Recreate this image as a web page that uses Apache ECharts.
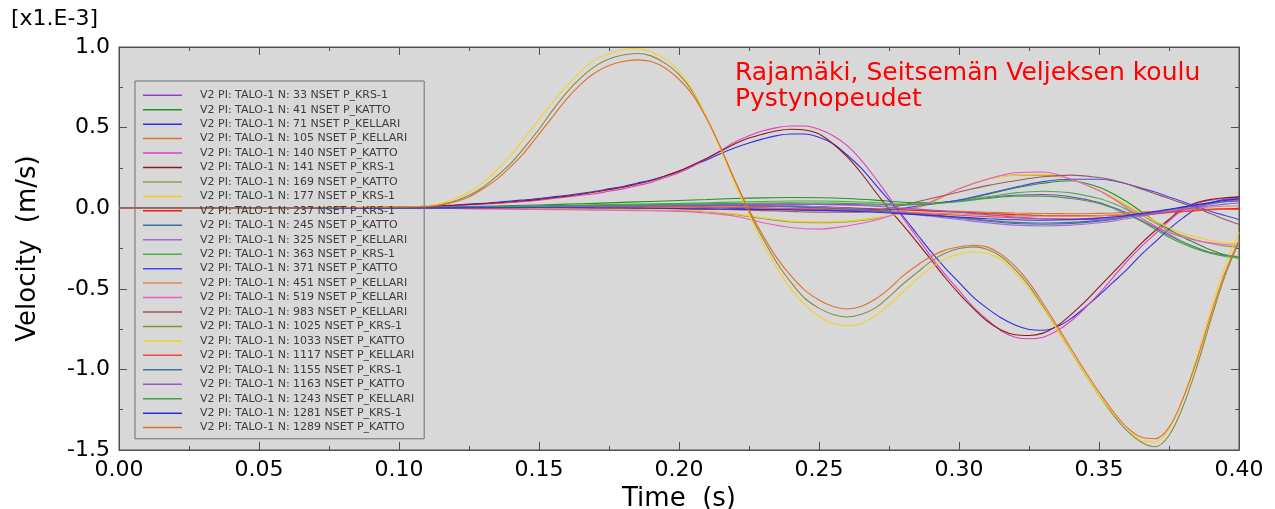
<!DOCTYPE html>
<html>
<head>
<meta charset="utf-8">
<script src="https://cdn.jsdelivr.net/npm/echarts@6/dist/echarts.min.js"></script>
<style>
html,body{margin:0;padding:0;background:#fff;}
#chart{width:1275px;height:509px;}
</style>
</head>
<body>
<div id="chart"></div>
<script>
// ---- data (velocity in 1e-3 m/s) ----
// coarse time grid (small-amplitude nodes)
const times = [0, 0.02, 0.04, 0.06, 0.08, 0.10, 0.11, 0.12, 0.13, 0.14, 0.15, 0.16, 0.17, 0.18, 0.19, 0.20, 0.21, 0.22, 0.23, 0.24, 0.25, 0.26, 0.27, 0.28, 0.29, 0.30, 0.31, 0.32, 0.33, 0.34, 0.35, 0.355, 0.36, 0.365, 0.37, 0.375, 0.38, 0.385, 0.39, 0.395, 0.40];
// fine time grid (large-amplitude nodes)
const timesFine = [0, 0.02, 0.04, 0.06, 0.08,
  0.100, 0.105, 0.110, 0.115, 0.120, 0.125, 0.130, 0.135, 0.140, 0.145,
  0.150, 0.155, 0.160, 0.165, 0.170, 0.175, 0.180, 0.185, 0.190, 0.195,
  0.200, 0.205, 0.210, 0.215, 0.220, 0.225, 0.230, 0.235, 0.240, 0.245,
  0.250, 0.255, 0.260, 0.265, 0.270, 0.275, 0.280, 0.285, 0.290, 0.295,
  0.300, 0.305, 0.310, 0.315, 0.320, 0.325, 0.330, 0.335, 0.340, 0.345,
  0.350, 0.355, 0.360, 0.365, 0.370, 0.375, 0.380, 0.385, 0.390, 0.395, 0.400];

const seriesNames = [
  "V2 PI: TALO-1 N: 33 NSET P_KRS-1",
  "V2 PI: TALO-1 N: 41 NSET P_KATTO",
  "V2 PI: TALO-1 N: 71 NSET P_KELLARI",
  "V2 PI: TALO-1 N: 105 NSET P_KELLARI",
  "V2 PI: TALO-1 N: 140 NSET P_KATTO",
  "V2 PI: TALO-1 N: 141 NSET P_KRS-1",
  "V2 PI: TALO-1 N: 169 NSET P_KATTO",
  "V2 PI: TALO-1 N: 177 NSET P_KRS-1",
  "V2 PI: TALO-1 N: 237 NSET P_KRS-1",
  "V2 PI: TALO-1 N: 245 NSET P_KATTO",
  "V2 PI: TALO-1 N: 325 NSET P_KELLARI",
  "V2 PI: TALO-1 N: 363 NSET P_KRS-1",
  "V2 PI: TALO-1 N: 371 NSET P_KATTO",
  "V2 PI: TALO-1 N: 451 NSET P_KELLARI",
  "V2 PI: TALO-1 N: 519 NSET P_KELLARI",
  "V2 PI: TALO-1 N: 983 NSET P_KELLARI",
  "V2 PI: TALO-1 N: 1025 NSET P_KRS-1",
  "V2 PI: TALO-1 N: 1033 NSET P_KATTO",
  "V2 PI: TALO-1 N: 1117 NSET P_KELLARI",
  "V2 PI: TALO-1 N: 1155 NSET P_KRS-1",
  "V2 PI: TALO-1 N: 1163 NSET P_KATTO",
  "V2 PI: TALO-1 N: 1243 NSET P_KELLARI",
  "V2 PI: TALO-1 N: 1281 NSET P_KRS-1",
  "V2 PI: TALO-1 N: 1289 NSET P_KATTO"
];

// small-amplitude nodes (on "times")
const n33   = [0,0,0,0,0,0.001,0.002,0.004,0.006,0.008,0.01,0.012,0.014,0.016,0.018,0.02,0.022,0.024,0.025,0.025,0.024,0.022,0.02,0.02,0.03,0.045,0.065,0.08,0.085,0.07,0.035,0.005,-0.03,-0.075,-0.12,-0.17,-0.21,-0.245,-0.275,-0.29,-0.30];
const n41   = [0,0,0,0,0,0.002,0.005,0.008,0.012,0.016,0.02,0.025,0.03,0.036,0.042,0.048,0.054,0.06,0.064,0.066,0.065,0.06,0.05,0.037,0.033,0.05,0.085,0.125,0.155,0.17,0.13,0.09,0.04,-0.02,-0.08,-0.13,-0.18,-0.22,-0.26,-0.29,-0.31];
const n105  = [0,0,0,0,0,0,-0.001,-0.002,-0.003,-0.004,-0.005,-0.006,-0.007,-0.008,-0.008,-0.008,-0.008,-0.007,-0.006,-0.005,-0.005,-0.006,-0.008,-0.011,-0.015,-0.02,-0.025,-0.03,-0.033,-0.034,-0.032,-0.03,-0.027,-0.024,-0.02,-0.016,-0.012,-0.008,-0.005,-0.003,-0.002];
const n169  = [0,0,0,0,0,0,0,0,0,0,-0.002,-0.004,-0.005,-0.006,-0.008,-0.012,-0.022,-0.04,-0.065,-0.085,-0.09,-0.085,-0.065,-0.025,0.035,0.12,0.18,0.205,0.205,0.18,0.11,0.06,0.01,-0.04,-0.09,-0.14,-0.17,-0.20,-0.22,-0.235,-0.24];
const n177  = [0,0,0,0,0,0,0,0,0,0,-0.002,-0.004,-0.005,-0.006,-0.007,-0.01,-0.02,-0.035,-0.06,-0.08,-0.085,-0.08,-0.06,-0.03,0.03,0.12,0.18,0.205,0.21,0.18,0.11,0.07,0.02,-0.03,-0.08,-0.12,-0.155,-0.18,-0.20,-0.215,-0.22];
const n237  = [0,0,0,0,0,0,0.001,0.002,0.003,0.004,0.005,0.006,0.008,0.01,0.012,0.014,0.015,0.015,0.014,0.012,0.008,0.003,-0.003,-0.01,-0.018,-0.025,-0.033,-0.04,-0.045,-0.047,-0.046,-0.044,-0.04,-0.035,-0.03,-0.025,-0.02,-0.014,-0.008,-0.003,0.0];
const n245  = [0,0,0,0,0,0.001,0.003,0.005,0.007,0.009,0.011,0.013,0.015,0.017,0.018,0.019,0.02,0.02,0.018,0.014,0.008,0.0,-0.01,-0.025,-0.04,-0.06,-0.08,-0.095,-0.10,-0.095,-0.08,-0.07,-0.055,-0.04,-0.025,-0.01,0.005,0.02,0.035,0.05,0.06];
const n325  = [0,0,0,0,0,0.001,0.002,0.004,0.006,0.008,0.01,0.012,0.014,0.016,0.018,0.02,0.021,0.022,0.02,0.015,0.008,-0.002,-0.015,-0.03,-0.05,-0.07,-0.09,-0.105,-0.11,-0.105,-0.09,-0.08,-0.065,-0.05,-0.035,-0.02,-0.005,0.01,0.025,0.04,0.05];
const n363  = [0,0,0,0,0,0.002,0.004,0.006,0.009,0.012,0.015,0.018,0.021,0.024,0.027,0.03,0.034,0.038,0.042,0.045,0.045,0.042,0.035,0.025,0.03,0.045,0.07,0.095,0.105,0.095,0.06,0.03,-0.01,-0.06,-0.11,-0.16,-0.21,-0.25,-0.28,-0.30,-0.31];
const n371  = [0,0,0,0,0,0.002,0.004,0.006,0.008,0.01,0.012,0.013,0.014,0.014,0.013,0.01,0.005,0.0,-0.005,-0.01,-0.015,-0.015,-0.01,0.0,0.025,0.05,0.09,0.13,0.165,0.18,0.18,0.17,0.15,0.125,0.10,0.07,0.04,0.01,-0.02,-0.045,-0.07];
const n451  = [0,0,0,0,0,0,0.001,0.002,0.003,0.004,0.005,0.006,0.007,0.008,0.008,0.008,0.007,0.005,0.002,-0.002,-0.007,-0.012,-0.018,-0.024,-0.03,-0.036,-0.042,-0.047,-0.05,-0.05,-0.046,-0.042,-0.037,-0.03,-0.023,-0.015,-0.007,0.0,0.007,0.012,0.015];
const n519  = [0,0,0,0,0,0,0,-0.002,-0.004,-0.006,-0.008,-0.01,-0.012,-0.014,-0.016,-0.02,-0.03,-0.05,-0.09,-0.12,-0.13,-0.11,-0.075,-0.02,0.04,0.12,0.18,0.22,0.225,0.18,0.11,0.06,0.0,-0.06,-0.11,-0.15,-0.18,-0.20,-0.215,-0.225,-0.23];
const n983  = [0,0,0,0,0,0,0,0.002,0.003,0.004,0.004,0.004,0.003,0.002,0,-0.003,-0.006,-0.01,-0.015,-0.02,-0.025,-0.025,-0.015,0.02,0.06,0.10,0.14,0.17,0.195,0.205,0.19,0.175,0.15,0.12,0.09,0.06,0.03,0.0,-0.035,-0.07,-0.10];
const n1117 = [0,0,0,0,0,0,0.001,0.001,0.002,0.003,0.004,0.005,0.006,0.007,0.008,0.008,0.007,0.005,0.002,-0.002,-0.007,-0.013,-0.02,-0.028,-0.036,-0.044,-0.052,-0.06,-0.065,-0.066,-0.06,-0.055,-0.05,-0.043,-0.036,-0.028,-0.022,-0.016,-0.01,-0.006,-0.008];
const n1155 = [0,0,0,0,0,0.001,0.002,0.003,0.005,0.007,0.009,0.011,0.013,0.014,0.015,0.016,0.016,0.015,0.012,0.008,0.002,-0.006,-0.016,-0.03,-0.045,-0.06,-0.075,-0.088,-0.092,-0.088,-0.075,-0.065,-0.052,-0.038,-0.024,-0.01,0.004,0.018,0.03,0.04,0.045];
const n1163 = [0,0,0,0,0,0.001,0.002,0.003,0.004,0.006,0.008,0.01,0.012,0.014,0.016,0.018,0.02,0.022,0.024,0.025,0.024,0.02,0.012,0.0,-0.012,-0.025,-0.04,-0.055,-0.065,-0.07,-0.068,-0.062,-0.055,-0.045,-0.032,-0.02,-0.008,0.005,0.015,0.025,0.032];
const n1243 = [0,0,0,0,0,0.001,0.003,0.005,0.007,0.01,0.012,0.015,0.018,0.02,0.022,0.025,0.028,0.03,0.032,0.033,0.032,0.03,0.025,0.022,0.028,0.04,0.06,0.075,0.075,0.06,0.03,0.0,-0.04,-0.08,-0.13,-0.18,-0.22,-0.255,-0.28,-0.295,-0.30];
const n1281 = [0,0,0,0,0,0.001,0.002,0.002,0.003,0.003,0.003,0.003,0.002,0.001,0.0,-0.002,-0.004,-0.006,-0.008,-0.01,-0.013,-0.018,-0.025,-0.035,-0.045,-0.055,-0.065,-0.072,-0.075,-0.072,-0.062,-0.055,-0.045,-0.033,-0.02,-0.007,0.008,0.022,0.035,0.048,0.058];

// large-amplitude nodes (on "timesFine")
const n71   = [0,0,0,0,0.002, 0.006,0.009,0.012,0.016,0.02,0.025,0.03,0.037,0.045,0.052, 0.06,0.07,0.08,0.092,0.105,0.12,0.135,0.155,0.175,0.20, 0.23,0.265,0.30,0.34,0.375,0.405,0.43,0.45,0.46,0.46, 0.44,0.40,0.33,0.25,0.15,0.05,-0.05,-0.16,-0.27,-0.37, -0.46,-0.55,-0.62,-0.68,-0.725,-0.752,-0.757,-0.735,-0.685,-0.615, -0.54,-0.46,-0.38,-0.29,-0.21,-0.13,-0.06,0.0,0.035,0.055,0.07];
const n140  = [0,0,0,0,0.002, 0.005,0.008,0.01,0.012,0.015,0.02,0.025,0.03,0.035,0.042, 0.05,0.06,0.07,0.08,0.09,0.105,0.12,0.14,0.16,0.19, 0.22,0.26,0.31,0.36,0.41,0.45,0.48,0.50,0.51,0.51, 0.49,0.45,0.39,0.30,0.19,0.07,-0.06,-0.18,-0.30,-0.41, -0.51,-0.61,-0.69,-0.76,-0.80,-0.81,-0.80,-0.76,-0.70,-0.62, -0.53,-0.43,-0.33,-0.24,-0.16,-0.08,-0.01,0.03,0.05,0.06,0.065];
const n141  = [0,0,0,0,0.002, 0.006,0.009,0.012,0.015,0.018,0.023,0.028,0.034,0.04,0.047, 0.055,0.065,0.075,0.087,0.10,0.115,0.13,0.15,0.17,0.20, 0.23,0.27,0.31,0.355,0.40,0.435,0.46,0.48,0.49,0.485, 0.46,0.40,0.32,0.22,0.105,-0.005,-0.105,-0.21,-0.32,-0.43, -0.53,-0.62,-0.70,-0.755,-0.785,-0.79,-0.775,-0.73,-0.66,-0.58, -0.49,-0.40,-0.31,-0.22,-0.14,-0.07,0.0,0.035,0.055,0.065,0.07];
const n1025 = [0,0,0,0,0.003, 0.008,0.009,0.012,0.025,0.045,0.08,0.13,0.20,0.28,0.38, 0.49,0.61,0.72,0.81,0.88,0.925,0.95,0.96,0.945,0.90, 0.83,0.72,0.56,0.37,0.17,-0.02,-0.19,-0.34,-0.46,-0.56, -0.62,-0.66,-0.675,-0.66,-0.62,-0.55,-0.47,-0.40,-0.33,-0.28, -0.25,-0.24,-0.255,-0.30,-0.38,-0.48,-0.61,-0.75,-0.89,-1.03, -1.16,-1.28,-1.38,-1.45,-1.48,-1.41,-1.23,-0.98,-0.69,-0.42,-0.21];
const n1033 = [0,0,0,0,0.003, 0.008,0.01,0.015,0.03,0.06,0.10,0.16,0.24,0.33,0.44, 0.55,0.66,0.76,0.85,0.92,0.96,0.985,0.99,0.97,0.925, 0.85,0.73,0.56,0.36,0.15,-0.04,-0.22,-0.37,-0.50,-0.60, -0.67,-0.715,-0.73,-0.715,-0.67,-0.60,-0.52,-0.44,-0.37,-0.315, -0.285,-0.27,-0.28,-0.32,-0.40,-0.50,-0.62,-0.75,-0.89,-1.03, -1.16,-1.27,-1.36,-1.44,-1.45,-1.37,-1.18,-0.92,-0.63,-0.36,-0.15];
const n1289 = [0,0,0,0,0.003, 0.008,0.009,0.01,0.02,0.04,0.07,0.12,0.18,0.26,0.35, 0.46,0.57,0.68,0.77,0.84,0.885,0.91,0.92,0.91,0.87, 0.80,0.70,0.55,0.37,0.17,-0.01,-0.17,-0.31,-0.42,-0.51, -0.57,-0.61,-0.625,-0.61,-0.565,-0.50,-0.42,-0.355,-0.30,-0.26, -0.24,-0.23,-0.24,-0.285,-0.36,-0.46,-0.59,-0.73,-0.87,-1.01, -1.14,-1.26,-1.36,-1.42,-1.43,-1.36,-1.18,-0.94,-0.66,-0.40,-0.20];

const seriesValues = [n33,n41,n71,n105,n140,n141,n169,n177,n237,n245,n325,n363,n371,n451,n519,n983,n1025,n1033,n1117,n1155,n1163,n1243,n1281,n1289];

const xTicks = {min: 0, max: 0.40, step: 0.05};
const yTicks = {min: -1.5, max: 1.0, step: 0.5};

// ---- styles ----
const seriesColors = [
  "#8f3fd0", "#1f961f", "#2f2fe6", "#e0702c", "#e040c0", "#8c1c1c",
  "#9c9c50", "#f0d020", "#e81c1c", "#3f6f9f", "#a868d8", "#4caf4c",
  "#4646f0", "#dc8a5c", "#f05ac8", "#9a5a5a", "#8a8a3c", "#f2d228",
  "#f04848", "#45709a", "#9a58cc", "#3fa33f", "#2a2af0", "#e0702c"
];

const FONT = "DejaVu Sans";
const chart = echarts.init(document.getElementById('chart'), null, {renderer: 'canvas'});

const series = seriesNames.map((name, i) => {
  const vals = seriesValues[i];
  const tt = vals.length === timesFine.length ? timesFine : times;
  return {
    name: name,
    type: 'line',
    xAxisIndex: 0,
    yAxisIndex: 0,
    data: tt.map((t, j) => [t, vals[j]]),
    symbol: 'none',
    showSymbol: false,
    smooth: 0.35,
    lineStyle: {width: 1.1, color: seriesColors[i]},
    itemStyle: {color: seriesColors[i]},
    emphasis: {disabled: true},
    animation: false
  };
});

function axisCommon() {
  return {
    axisLine: {show: true, onZero: false, lineStyle: {color: '#505050', width: 1}},
    axisTick: {show: true, inside: true, length: 8, lineStyle: {color: '#505050'}},
    minorTick: {show: true, splitNumber: 2, length: 4, lineStyle: {color: '#505050'}},
    splitLine: {show: false}
  };
}

const option = {
  backgroundColor: '#ffffff',
  animation: false,
  grid: {
    left: 119, right: 36, top: 47, bottom: 59,
    containLabel: false,
    outerBoundsMode: 'none',
    show: true, backgroundColor: '#d8d8d8', borderColor: '#505050', borderWidth: 1
  },
  xAxis: [
    Object.assign({
      type: 'value', min: xTicks.min, max: xTicks.max, interval: xTicks.step,
      position: 'bottom',
      name: 'Time  (s)', nameLocation: 'middle', nameGap: 31,
      nameTextStyle: {fontFamily: FONT, fontSize: 26, color: '#000'},
      axisLabel: {show: true, margin: 9, fontFamily: FONT, fontSize: 22, color: '#000',
        formatter: v => v.toFixed(2)}
    }, axisCommon()),
    Object.assign({
      type: 'value', min: xTicks.min, max: xTicks.max, interval: xTicks.step,
      position: 'top', axisLabel: {show: false}
    }, axisCommon())
  ],
  yAxis: [
    Object.assign({
      type: 'value', min: yTicks.min, max: yTicks.max, interval: yTicks.step,
      position: 'left',
      name: 'Velocity  (m/s)', nameLocation: 'middle', nameGap: 78,
      nameTextStyle: {fontFamily: FONT, fontSize: 26, color: '#000'},
      axisLabel: {show: true, margin: 9, fontFamily: FONT, fontSize: 22, color: '#000',
        formatter: v => v.toFixed(1)}
    }, axisCommon()),
    Object.assign({
      type: 'value', min: yTicks.min, max: yTicks.max, interval: yTicks.step,
      position: 'right', axisLabel: {show: false}
    }, axisCommon())
  ],
  legend: {
    show: true,
    orient: 'vertical',
    left: 135, top: 81,
    padding: [7, 10, 4, 8],
    icon: 'rect',
    itemWidth: 39, itemHeight: 1.5, itemGap: 0,
    borderColor: '#6e6e6e', borderWidth: 1,
    backgroundColor: 'transparent',
    selectedMode: false,
    textStyle: {fontFamily: FONT, fontSize: 11, color: '#3c3c3c', lineHeight: 14.45, padding: [0, 0, 0, 13]},
    data: seriesNames
  },
  graphic: [
    {type: 'text', left: 11, top: 8,
      style: {text: '[x1.E-3]', font: '22px "DejaVu Sans"', fill: '#000'}},
    {type: 'text', left: 735, top: 60,
      style: {text: 'Rajamäki, Seitsemän Veljeksen koulu\nPystynopeudet',
        font: '25px "DejaVu Sans"', fill: '#ff0000', lineHeight: 26}}
  ],
  series: series
};
chart.setOption(option);
</script>
</body>
</html>
